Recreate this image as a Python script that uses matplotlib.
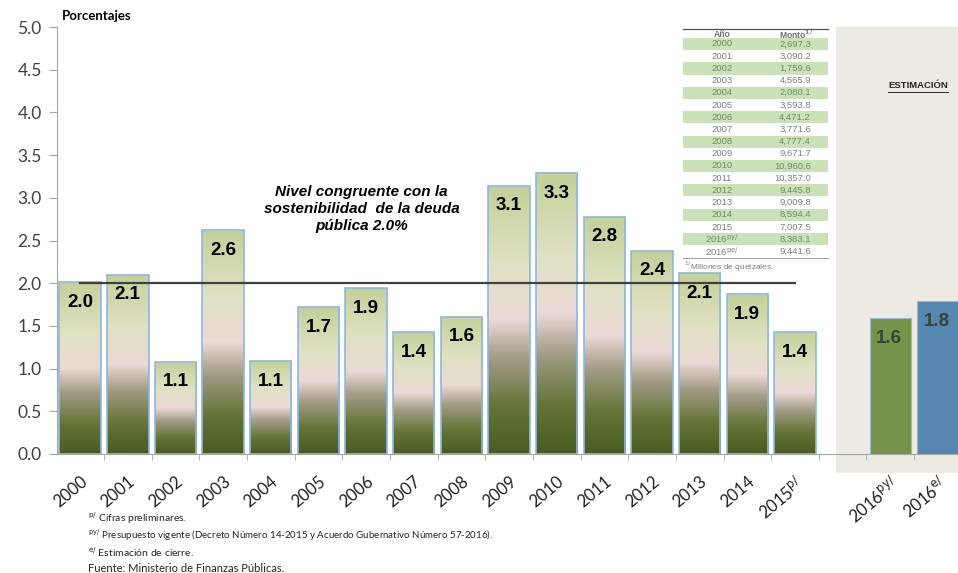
import numpy as np
import matplotlib
matplotlib.use("Agg")
import matplotlib.pyplot as plt
from matplotlib.patches import Rectangle
from matplotlib.lines import Line2D
from matplotlib.colors import LinearSegmentedColormap
from matplotlib.transforms import blended_transform_factory, ScaledTranslation

# data
years = ['2000', '2001', '2002', '2003', '2004', '2005', '2006', '2007',
         '2008', '2009', '2010', '2011', '2012', '2013', '2014', '2015$^{\\mathrm{p/}}$']
deficit = [2.01, 2.10, 1.08, 2.62, 1.09, 1.72, 1.94, 1.43,
           1.61, 3.14, 3.29, 2.78, 2.38, 2.12, 1.87, 1.43]
est_labels = ['2016$^{\\mathrm{py/}}$', '2016$^{\\mathrm{e/}}$']
est_values = [1.59, 1.79]
est_colors = ['#76934A', '#5587B1']
ref_level = 2.0

table_years = ['2000', '2001', '2002', '2003', '2004', '2005', '2006', '2007', '2008',
               '2009', '2010', '2011', '2012', '2013', '2014', '2015',
               '2016$^{\\mathrm{py/}}$', '2016$^{\\mathrm{pe/}}$']
table_montos = ['2,697.3', '3,090.2', '1,759.6', '4,565.9', '2,080.1', '3,593.8',
                '4,471.2', '3,771.6', '4,777.4', '9,671.7', '10,960.6', '10,357.0',
                '9,445.8', '9,009.8', '8,594.4', '7,007.5', '8,383.1', '9,441.6']

footnotes = ['$^{\\mathrm{p/}}$ Cifras preliminares.',
             '$^{\\mathrm{py/}}$ Presupuesto vigente (Decreto Número 14-2015 y Acuerdo Gubernativo Número 57-2016).',
             '$^{\\mathrm{e/}}$ Estimación de cierre.',
             'Fuente: Ministerio de Finanzas Públicas.']

W, H = 958, 573
fig = plt.figure(figsize=(W / 100, H / 100), dpi=100)


def fx(px):
    return px / W


def fy(py):
    return 1 - py / H


ax = fig.add_axes([fx(57), fy(454), 1 - fx(57), (454 - 27) / H])

x = np.arange(len(deficit))
x_est = len(deficit) + 1 + np.arange(len(est_values))

# gradient bars
grad_cmap = LinearSegmentedColormap.from_list('olive', [
    (0.0, '#485C22'), (0.18, '#667538'), (0.36, '#A49D88'),
    (0.5, '#EBD9D6'), (0.7, '#E0E1C4'), (1.0, '#C3D198')])
bars = ax.bar(x, deficit, width=0.87, facecolor='none', edgecolor='#8FB7DF', linewidth=1.2, zorder=3)
grad = np.linspace(1, 0, 256).reshape(-1, 1)
for b in bars:
    x0, w, h = b.get_x(), b.get_width(), b.get_height()
    im = ax.imshow(grad, extent=[x0, x0 + w, 0, h], aspect='auto', cmap=grad_cmap,
                   vmin=0, vmax=1, zorder=2, interpolation='bilinear')
    im.set_clip_path(b)

est_bars = ax.bar(x_est, est_values, width=0.87, color=est_colors, edgecolor='#9FB7CF',
                  linewidth=0.8, zorder=3)

# value labels
for b, v in zip(bars, deficit):
    ax.annotate(f'{v:.1f}', (b.get_x() + b.get_width() / 2, v), xytext=(0, -14.5),
                textcoords='offset points', ha='center', va='center',
                fontsize=13.5, fontweight='bold', family='Liberation Sans', color='black', zorder=5)
for b, v in zip(est_bars, est_values):
    ax.annotate(f'{v:.1f}', (b.get_x() + b.get_width() / 2, v), xytext=(-1, -14.5),
                textcoords='offset points', ha='center', va='center',
                fontsize=13.5, fontweight='bold', family='Liberation Sans', color='#3A4236', zorder=5)

# reference line
ax.plot([x[0], x[-1]], [ref_level, ref_level], color='#404040', linewidth=1.6, zorder=4)
ax.text(5.91, 2.87, 'Nivel congruente con la\nsostenibilidad  de la deuda\npública 2.0%',
        ha='center', va='center', fontsize=11, fontweight='bold', fontstyle='italic',
        family='Liberation Sans', linespacing=1.3, zorder=5)

# estimation panel
trans = blended_transform_factory(ax.transData, ax.transAxes)
ax.add_patch(Rectangle((15.86, -0.045), 4, 1.045, transform=trans, facecolor='#ECEAE2',
                       edgecolor='none', zorder=0, clip_on=False))

ax.set_xlim(-0.485, 18.42)
ax.set_ylim(0, 5)
ax.set_yticks(np.arange(0, 5.01, 0.5))
ax.set_yticklabels([f'{t:.1f}' for t in np.arange(0, 5.01, 0.5)], family='Lato', fontsize=12.5, color='#404040')
ax.set_xticks(np.concatenate([x, x_est]))
ax.set_xticklabels(years + est_labels, rotation=40, ha='right', va='top', rotation_mode='anchor',
                   family='Lato', fontsize=12, color='#202020')
shift = ScaledTranslation(-5 / 72, 0, fig.dpi_scale_trans)
for lab in ax.get_xticklabels():
    lab.set_transform(lab.get_transform() + shift)
ax.set_xticks(np.arange(0.5, 18, 1.0), minor=True)
ax.tick_params(axis='x', which='major', length=0, pad=14)
ax.tick_params(axis='x', which='minor', length=4, color='#A6A6A6')
ax.tick_params(axis='y', length=6, color='#A6A6A6', pad=5)
for s in ['top', 'right']:
    ax.spines[s].set_visible(False)
ax.spines['left'].set_color('#A6A6A6')
ax.spines['bottom'].set_color('#A6A6A6')
ax.patch.set_alpha(0)

fig.text(fx(62), fy(16), 'Porcentajes', fontsize=9.5, fontweight='bold', family='Lato',
         va='center', ha='left')

# ESTIMACIÓN label
fig.text(fx(918), fy(85), 'ESTIMACIÓN', fontsize=6.8, fontweight='bold', family='Liberation Sans',
         ha='center', va='center', color='#262626')
fig.add_artist(Line2D([fx(888), fx(948)], [fy(91.5), fy(91.5)], color='#262626', linewidth=0.7))

# small table
row_h = 12.2
tbl_left, tbl_right = 683, 828
fig.add_artist(Line2D([fx(tbl_left), fx(tbl_right)], [fy(28.5), fy(28.5)], color='#555555', linewidth=0.9))
fig.text(fx(722), fy(34.5), 'Año', fontsize=6.2, fontweight='bold', family='Liberation Sans',
         ha='center', va='center', color='#707070')
fig.text(fx(813), fy(34.5), 'Monto$^{\\mathbf{1/}}$', fontsize=6.2, fontweight='bold',
         family='Liberation Sans', ha='right', va='center', color='#707070')
for i, (yr, mt) in enumerate(zip(table_years, table_montos)):
    yc = 44 + i * row_h
    if i % 2 == 0:
        fig.add_artist(Rectangle((fx(tbl_left), fy(yc + row_h / 2)), fx(tbl_right - tbl_left),
                                 row_h / H, transform=fig.transFigure, facecolor='#C9E2B8',
                                 edgecolor='none', zorder=0.5))
        tc = '#6E8E5E'
    else:
        tc = '#7F7F7F'
    fig.text(fx(722), fy(yc), yr, fontsize=6.8, family='Liberation Sans', ha='center',
             va='center', color=tc)
    fig.text(fx(811), fy(yc), mt, fontsize=6.8, family='Liberation Sans', ha='right',
             va='center', color=tc)
y_end = 44 + (len(table_years) - 0.5) * row_h
fig.add_artist(Line2D([fx(tbl_left), fx(tbl_right)], [fy(y_end), fy(y_end)], color='#A0A0A0', linewidth=0.7))
fig.text(fx(684), fy(y_end + 9), '$^{\\mathrm{1/}}$Millones de quetzales.', fontsize=6,
         family='Liberation Sans', ha='left', va='center', color='#808080')

# footnotes
note_sizes = [7.5, 7.0, 7.5, 8.0]
for i, t in enumerate(footnotes):
    fig.text(fx(88), fy(518 + i * 17), t, fontsize=note_sizes[i], family='Lato', ha='left',
             va='center', color='#262626')

fig.savefig('out.png', dpi=100)
